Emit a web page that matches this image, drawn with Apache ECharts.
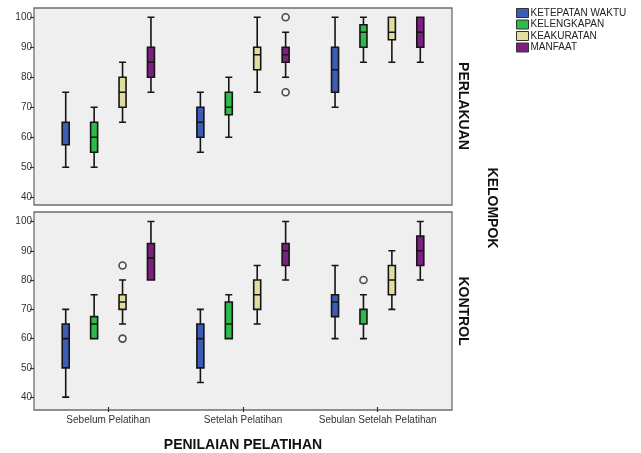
<!DOCTYPE html>
<html>
<head>
<meta charset="utf-8">
<script src="https://cdn.jsdelivr.net/npm/echarts@6/dist/echarts.min.js"></script>
<style>
  html, body { margin: 0; padding: 0; background: #ffffff; }
  #chart { width: 641px; height: 453px; }
</style>
</head>
<body>
<div id="chart"></div>
<script>
// ---- Data ----
const categories = ['Sebelum Pelatihan', 'Setelah Pelatihan', 'Sebulan Setelah Pelatihan'];
const measures = ['KETEPATAN WAKTU', 'KELENGKAPAN', 'KEAKURATAN', 'MANFAAT'];
const groups = ['PERLAKUAN', 'KONTROL'];
const yTicks = [40, 50, 60, 70, 80, 90, 100];

// [min, Q1, median, Q3, max] per category
const ketepatanPerlakuan   = [[50, 57.5, 65, 65, 75], [55, 60, 65, 70, 75], [70, 75, 82.5, 90, 100]];
const kelengkapanPerlakuan = [[50, 55, 60, 65, 70], [60, 67.5, 70, 75, 80], [85, 90, 95, 97.5, 100]];
const keakuratanPerlakuan  = [[65, 70, 75, 80, 85], [75, 82.5, 87.5, 90, 100], [85, 92.5, 95, 100, 100]];
const manfaatPerlakuan     = [[75, 80, 85, 90, 100], [80, 85, 87.5, 90, 95], [85, 90, 95, 100, 100]];

const ketepatanKontrol   = [[40, 50, 60, 65, 70], [45, 50, 60, 65, 70], [60, 67.5, 72.5, 75, 85]];
const kelengkapanKontrol = [[60, 60, 65, 67.5, 75], [60, 60, 65, 72.5, 75], [60, 65, 65, 70, 75]];
const keakuratanKontrol  = [[65, 70, 72.5, 75, 80], [65, 70, 75, 80, 85], [70, 75, 80, 85, 90]];
const manfaatKontrol     = [[80, 80, 87.5, 92.5, 100], [80, 85, 90, 92.5, 100], [80, 85, 90, 95, 100]];

// outliers: [category, value]
const outlierManfaatPerlakuan   = [['Setelah Pelatihan', 100], ['Setelah Pelatihan', 75]];
const outlierKeakuratanKontrol  = [['Sebelum Pelatihan', 85], ['Sebelum Pelatihan', 60]];
const outlierKelengkapanKontrol = [['Sebulan Setelah Pelatihan', 80]];

// ---- Styling / layout ----
const colors = ['#3d5cb8', '#2dbb4b', '#e2dc9f', '#7c1f7e'];
const FONT = '"Liberation Sans", Arial, sans-serif';
const gridLeft = 41, gridRight = 445;
const panels = [
  { top: 8, height: 197, min: 37.43, max: 103.1 },
  { top: 212, height: 198, min: 36.63, max: 103.26 }
];
const panelX = 34, panelW = 418;

// replicate ECharts boxplot offset calculation for outlier alignment
const bandWidth = (gridRight - gridLeft) / categories.length;
const avail = bandWidth * 0.8 - 2;
const nS = measures.length;
const boxGap = avail / nS * 0.3;
const bW = (avail - boxGap * (nS - 1)) / nS;
const offsets = [];
{ let base = bW / 2 - avail / 2; for (let i = 0; i < nS; i++) { offsets.push(base); base += boxGap + bW; } }

const seriesData = [
  [ketepatanPerlakuan, kelengkapanPerlakuan, keakuratanPerlakuan, manfaatPerlakuan],
  [ketepatanKontrol, kelengkapanKontrol, keakuratanKontrol, manfaatKontrol]
];
const outliers = [
  [[], [], [], outlierManfaatPerlakuan],
  [[], outlierKelengkapanKontrol, outlierKeakuratanKontrol, []]
];

const grid = panels.map(p => ({ left: gridLeft, width: gridRight - gridLeft, top: p.top, height: p.height, show: false }));

const xAxis = panels.map((p, i) => ({
  type: 'category', gridIndex: i, data: categories,
  axisLine: { show: false },
  axisTick: { show: i === 1, alignWithLabel: true, length: 5, lineStyle: { color: '#333', width: 1.2 } },
  axisLabel: { show: i === 1, interval: 0, fontFamily: FONT, fontSize: 10, color: '#333', margin: 8 },
  splitLine: { show: false },
  name: i === 1 ? 'PENILAIAN PELATIHAN' : '',
  nameLocation: 'middle', nameGap: 31,
  nameTextStyle: { fontFamily: FONT, fontSize: 14, fontWeight: 'bold', color: '#111' }
}));

const yAxis = panels.map((p, i) => ({
  type: 'value', gridIndex: i, min: p.min, max: p.max,
  offset: gridLeft - panelX,
  axisLine: { show: false },
  axisTick: { show: true, customValues: yTicks, length: 4, lineStyle: { color: '#333', width: 1.2 } },
  axisLabel: { customValues: yTicks, fontFamily: FONT, fontSize: 10, color: '#333', margin: 2 },
  splitLine: { show: false }
}));

const series = [];
for (let g = 0; g < 2; g++) {
  for (let m = 0; m < nS; m++) {
    series.push({
      type: 'boxplot', name: measures[m], xAxisIndex: g, yAxisIndex: g,
      data: seriesData[g][m],
      boxWidth: [7, 7],
      itemStyle: { color: colors[m], borderColor: '#151515', borderWidth: 1.6 },
      emphasis: { disabled: true },
      z: 3
    });
  }
  for (let m = 0; m < nS; m++) {
    if (!outliers[g][m].length) continue;
    series.push({
      type: 'scatter', xAxisIndex: g, yAxisIndex: g,
      data: outliers[g][m],
      symbol: 'circle', symbolSize: 7,
      symbolOffset: [offsets[m], 0],
      itemStyle: { color: '#f4f4f4', borderColor: '#222', borderWidth: 1.6 },
      z: 4
    });
  }
}

const graphic = [];
panels.forEach(p => {
  graphic.push({
    type: 'rect', z: -10, silent: true,
    shape: { x: panelX, y: p.top, width: panelW, height: p.height },
    style: { fill: '#efefef', stroke: '#6e6e6e', lineWidth: 1.3 }
  });
});
const sideText = (txt, x, y) => ({
  type: 'text', x: x, y: y, rotation: -Math.PI / 2, silent: true,
  style: { text: txt, font: 'bold 14px ' + FONT, fill: '#111', textAlign: 'center', textVerticalAlign: 'middle' }
});
graphic.push(sideText(groups[0], 463, 106));
graphic.push(sideText('KELOMPOK', 492, 208));
graphic.push(sideText(groups[1], 463, 311));

const chart = echarts.init(document.getElementById('chart'), null, { renderer: 'canvas' });
chart.setOption({
  animation: false,
  backgroundColor: '#ffffff',
  grid, xAxis, yAxis, series, graphic,
  legend: {
    data: measures.map((n, i) => ({ name: n, itemStyle: { color: colors[i], borderColor: '#333', borderWidth: 1 } })),
    orient: 'vertical', left: 516, top: 8, padding: 0,
    icon: 'rect', itemWidth: 12, itemHeight: 9, itemGap: 1.5,
    textStyle: { fontFamily: FONT, fontSize: 10, color: '#222', padding: [0, 0, 0, -3] },
    selectedMode: false
  }
});
</script>
</body>
</html>
